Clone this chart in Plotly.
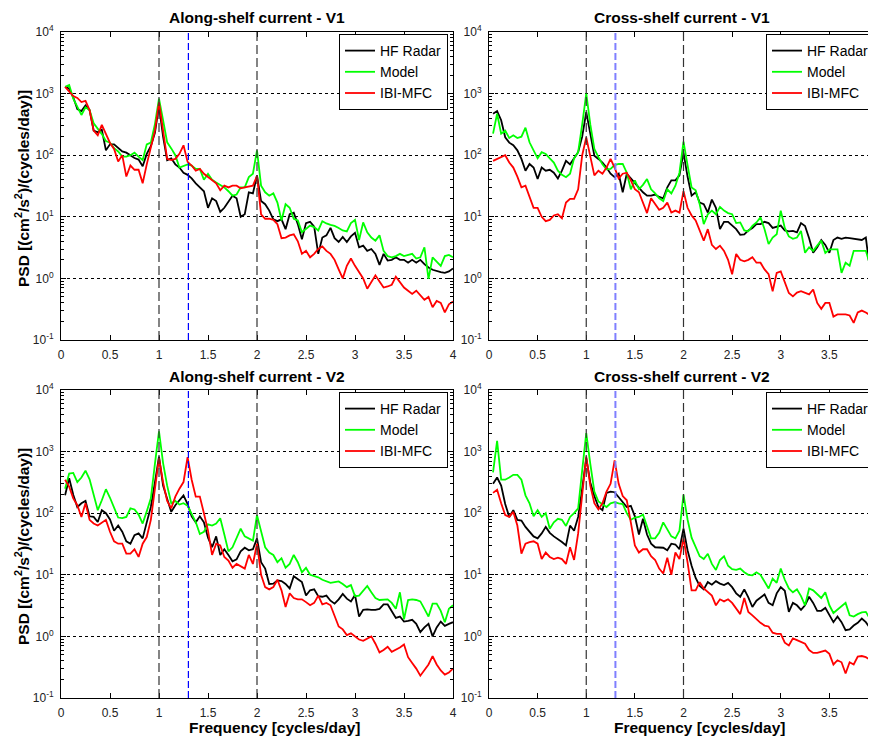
import numpy as np
import plotly.graph_objects as go

# Frequency grid (cycles/day), spectral resolution 1/24 cpd
freq_along = np.arange(1, 97) / 24.0
freq_cross = np.arange(1, 96) / 24.0

# ---------------- Along-shelf current - V1 ----------------
along_v1_radar = [1290, 1200, 870, 560, 520, 640, 540, 250, 235, 260, 120, 150, 150, 130, 115, 110, 98, 90, 85, 66, 105, 140, 230, 630,
                  200, 83, 89, 71, 63, 52, 48, 42, 35, 30, 26, 14, 20, 18, 12, 14, 18, 22, 20, 10, 11, 25, 24, 47,
                  18, 16, 12.6, 9.1, 8.5, 9.1, 6.3, 11, 11.7, 7.6, 4.3, 7.9, 8.3, 6.9, 2.5, 4.6, 5.0, 6.6, 4.5, 3.9, 4.7, 3.9, 4.8, 5.5,
                  3.2, 3.4, 2.8, 3.0, 2.5, 1.66, 2.5, 1.95, 2.0, 2.2, 2.0, 2.0, 1.8, 2.0, 1.8, 2.0, 1.7, 1.5, 1.38, 1.3, 1.26, 1.23, 1.3, 1.45]
along_v1_model = [1290, 1380, 830, 600, 450, 600, 540, 330, 270, 220, 170, 160, 130, 115, 95, 95, 100, 110, 95, 83, 150, 160, 320, 830,
                  370, 162, 129, 100, 63, 66, 71, 68, 60, 60, 40, 50, 40, 36, 33, 30, 26, 22, 23, 30, 30, 44, 50, 120,
                  32, 25, 22, 24, 17, 8.7, 16, 14, 9.3, 8.7, 5.6, 6.3, 7.2, 6.8, 6.0, 8.5, 7.8, 7.4, 7.1, 6.6, 6.0, 5.8, 7.9, 8.9,
                  4.2, 8.1, 5.6, 4.6, 4.1, 5.0, 2.8, 2.3, 2.2, 2.3, 2.5, 2.3, 2.4, 2.5, 2.1, 2.2, 3.2, 0.98, 2.2, 1.9, 1.6, 2.3, 2.4, 2.2]
along_v1_ibi = [1290, 1070, 910, 850, 730, 760, 540, 250, 210, 310, 225, 158, 126, 79, 100, 45, 68, 58, 58, 35, 71, 135, 250, 720,
                250, 87, 83, 87, 105, 145, 78, 68, 56, 60, 50, 44, 40, 35, 27, 32, 30, 32, 32, 29, 30, 31, 32, 46,
                11, 9.3, 9.3, 8.9, 7.6, 4.5, 4.6, 5.0, 5.2, 4.0, 2.5, 2.8, 2.2, 2.5, 3.0, 3.3, 2.8, 2.5, 2.0, 1.4, 1.0, 1.6, 2.1, 1.6,
                1.26, 1.0, 0.68, 0.89, 1.12, 0.89, 0.71, 0.74, 0.79, 1.07, 0.89, 0.71, 0.63, 0.56, 0.63, 0.54, 0.45, 0.5, 0.34, 0.43, 0.40, 0.28, 0.38, 0.42]

# ---------------- Cross-shelf current - V1 ----------------
cross_v1_radar = [470, 520, 370, 195, 160, 145, 120, 87, 56, 72, 63, 41, 63, 56, 58, 52, 42, 56, 81, 71, 89, 112, 200, 500,
                  224, 98, 87, 76, 63, 50, 44, 50, 25, 50, 42, 35, 30, 25, 22, 22, 23, 21, 20, 30, 39, 39, 47, 110,
                  45, 22, 25, 17, 16, 11.7, 19, 14, 6.3, 8.3, 8.3, 7.2, 6.3, 5.1, 5.2, 6.0, 6.6, 7.6, 7.6, 8.3, 7.9, 6.6, 6.8, 7.2,
                  6.0, 5.8, 5.9, 5.6, 7.9, 7.1, 4.5, 2.6, 3.2, 4.2, 3.5, 2.6, 4.2, 4.6, 4.4, 4.6, 4.5, 4.4, 4.3, 4.2, 4.6, 1.4, 3.3]
cross_v1_model = [224, 470, 224, 250, 190, 210, 190, 200, 280, 162, 120, 89, 112, 105, 89, 76, 56, 48, 44, 50, 89, 112, 316, 1000,
                  316, 126, 93, 71, 59, 60, 69, 72, 72, 52, 28, 39, 28, 33, 41, 28, 24, 20, 18, 28, 24, 32, 52, 166,
                  69, 30, 27, 16, 7.6, 11, 12.6, 11, 14.5, 12.6, 11.5, 11, 7.9, 8.1, 6.0, 5.8, 7.1, 8.1, 9.8, 6.3, 3.6, 4.6, 5.2, 12.6,
                  6.6, 4.8, 4.4, 4.6, 5.9, 2.6, 3.2, 2.8, 3.4, 4.1, 2.6, 2.95, 2.95, 2.95, 1.23, 1.8, 1.6, 2.8, 2.8, 2.8, 2.8, 1.7, 1.3]
cross_v1_ibi = [81, 87, 95, 100, 76, 63, 45, 30, 32, 21, 14, 14, 10, 8.5, 8.9, 10.5, 11, 9.5, 17, 19.5, 19.5, 28, 100, 195,
                98, 47, 56, 50, 63, 87, 63, 42, 50, 52, 39, 28, 25, 17, 11.5, 20, 16, 13, 14, 17, 11.7, 12.6, 11.7, 26,
                14, 10.5, 8.7, 6.0, 4.1, 6.3, 3.5, 3.0, 3.4, 2.8, 2.0, 1.17, 2.5, 2.0, 1.9, 2.0, 2.2, 1.8, 1.8, 1.4, 1.17, 0.62, 1.23, 1.3,
                0.89, 0.58, 0.51, 0.59, 0.62, 0.58, 0.55, 0.66, 0.40, 0.32, 0.40, 0.40, 0.24, 0.26, 0.26, 0.26, 0.25, 0.19, 0.28, 0.30, 0.28, 0.25, 0.23]

# ---------------- Along-shelf current - V2 ----------------
along_v2_radar = [195, 370, 200, 126, 145, 158, 89, 87, 72, 112, 100, 79, 52, 63, 50, 35, 32, 44, 47, 39, 71, 126, 316, 830,
                  280, 178, 105, 135, 166, 195, 141, 89, 71, 89, 71, 40, 28, 42, 21, 26, 21, 16.6, 17.8, 24, 27.5, 25, 26, 39,
                  16, 12.6, 7.1, 7.2, 8.1, 7.9, 7.1, 6.0, 9.5, 8.5, 7.6, 4.6, 5.6, 5.8, 4.5, 4.4, 4.6, 3.8, 3.4, 4.0, 4.9, 4.1, 3.7, 4.7,
                  2.1, 2.7, 2.75, 2.7, 2.7, 2.8, 3.3, 3.3, 2.5, 2.0, 2.1, 1.74, 1.78, 1.86, 1.6, 1.17, 1.4, 1.6, 1.0, 1.4, 1.74, 1.48, 1.6, 1.7]
along_v2_model = [250, 440, 450, 320, 380, 490, 355, 200, 112, 162, 245, 178, 120, 85, 83, 87, 120, 115, 95, 68, 107, 174, 630, 2140,
                  650, 280, 145, 158, 138, 145, 132, 95, 72, 46, 50, 66, 63, 68, 83, 45, 24, 28, 40, 56, 42, 39, 36, 93,
                  50, 28, 23, 21, 16, 18.6, 13, 15, 21, 16, 11, 13, 10, 9.5, 9.1, 8.3, 7.8, 7.4, 7.6, 7.8, 7.1, 6.3, 6.8, 4.5,
                  4.6, 5.4, 6.6, 5.2, 4.2, 3.9, 4.0, 4.0, 3.5, 2.8, 5.2, 1.9, 3.9, 4.0, 3.9, 3.7, 2.8, 2.1, 3.4, 3.4, 2.6, 1.7, 2.8, 3.2]
along_v2_ibi = [350, 270, 174, 135, 87, 145, 78, 68, 63, 71, 78, 50, 35, 32, 32, 22, 22, 26, 19.5, 32, 41, 78, 250, 780,
                316, 158, 120, 186, 250, 320, 810, 350, 186, 186, 100, 52, 21, 32, 30, 19.5, 17, 13, 15, 13.8, 12.6, 21, 15, 32,
                10, 6.3, 5.8, 6.3, 8.3, 5.6, 3.0, 5.0, 4.2, 4.0, 4.0, 3.6, 3.2, 3.5, 4.6, 3.3, 3.5, 3.2, 2.2, 1.45, 1.3, 1.05, 1.12, 1.0,
                0.89, 0.85, 0.91, 1.0, 0.76, 0.55, 0.6, 0.68, 0.56, 0.6, 0.66, 0.74, 0.46, 0.37, 0.30, 0.23, 0.28, 0.35, 0.48, 0.35, 0.28, 0.24, 0.26, 0.30]

# ---------------- Cross-shelf current - V2 ----------------
cross_v2_radar = [300, 380, 280, 141, 87, 112, 78, 76, 60, 50, 42, 39, 47, 60, 48, 42, 38, 34, 30, 63, 52, 87, 250, 780,
                  316, 190, 126, 112, 214, 224, 219, 182, 151, 126, 132, 89, 45, 81, 45, 32, 28, 27.5, 27.5, 25, 32, 31, 26, 56,
                  25, 14, 8.9, 6.6, 5.8, 7.6, 6.9, 7.9, 7.2, 6.8, 7.4, 6.3, 5.0, 4.4, 5.8, 4.3, 3.0, 3.8, 4.2, 4.8, 3.5, 3.2, 5.0, 6.3,
                  5.5, 2.5, 3.5, 3.2, 2.7, 3.2, 4.4, 3.5, 2.6, 2.6, 2.9, 2.2, 1.7, 2.1, 1.7, 1.26, 1.3, 1.5, 1.66, 1.95, 1.7, 1.38, 2.5]
cross_v2_model = [460, 1500, 350, 350, 380, 420, 420, 350, 195, 145, 89, 112, 87, 100, 56, 71, 81, 78, 62, 87, 100, 120, 500, 2000,
                  630, 224, 155, 141, 126, 145, 151, 145, 141, 100, 78, 85, 87, 95, 60, 39, 39, 48, 71, 56, 42, 39, 52, 200,
                  79, 40, 28, 20, 18, 22, 15, 12, 17.4, 20, 14, 12.3, 12, 12.6, 11, 10, 9.8, 11, 10, 7.6, 6.0, 8.7, 7.4, 12.6,
                  8.3, 6.0, 5.2, 5.8, 4.5, 3.2, 6.0, 5.6, 4.8, 4.2, 5.2, 3.2, 2.4, 2.75, 3.1, 3.5, 2.2, 2.1, 2.3, 2.45, 2.5, 1.95, 2.2]
cross_v2_ibi = [214, 240, 145, 93, 87, 105, 63, 22, 32, 34, 35, 32, 18, 23, 19.5, 18, 19, 18, 15, 28, 17.4, 47, 200, 830,
                280, 145, 115, 145, 224, 300, 720, 300, 190, 162, 71, 30, 23, 26, 26, 20, 17.4, 12.6, 10.5, 19, 10, 23, 18, 39,
                16, 5.6, 5.6, 7.6, 6.0, 5.2, 4.6, 3.2, 4.0, 3.7, 4.0, 3.5, 2.8, 2.3, 4.2, 2.5, 2.2, 1.9, 1.66, 1.5, 1.45, 1.15, 1.1, 1.1,
                0.79, 0.71, 0.93, 0.87, 0.81, 0.76, 0.6, 0.54, 0.54, 0.56, 0.59, 0.52, 0.35, 0.41, 0.38, 0.25, 0.38, 0.35, 0.47, 0.48, 0.46, 0.42, 0.32]

series_names = ["HF Radar", "Model", "IBI-MFC"]
series_colors = ["#000000", "#00ff00", "#ff0000"]
panel_titles = ["Along-shelf current - V1", "Cross-shelf current - V1",
                "Along-shelf current - V2", "Cross-shelf current - V2"]
y_tickvals = [0.1, 1, 10, 100, 1000, 10000]
y_ticktext = ["10<sup>-1</sup>", "10<sup>0</sup>", "10<sup>1</sup>", "10<sup>2</sup>", "10<sup>3</sup>", "10<sup>4</sup>"]
x_tick_left = [0, 0.5, 1, 1.5, 2, 2.5, 3, 3.5, 4]
x_tick_right = [0, 0.5, 1, 1.5, 2, 2.5, 3, 3.5]
tidal_lines = [1, 2]
inertial_line = 1.3

W, H = 876, 740
OFF = 8  # default page body margin that offsets the figure on screen
def px(x): return (x - OFF) / W
def py(y): return 1 - (y - OFF) / H

panels = [
    dict(freq=freq_along, data=[along_v1_radar, along_v1_model, along_v1_ibi], xl=61, xr=453, yt=32, yb=340,
         xrange=[0, 4], ticks=x_tick_left, blue="#0000ff", bw=1.2, leg_r=448, leg_t=34),
    dict(freq=freq_cross, data=[cross_v1_radar, cross_v1_model, cross_v1_ibi], xl=489, xr=878, yt=32, yb=340,
         xrange=[0, 4], ticks=x_tick_right, blue="#7f7fff", bw=2, leg_r=875, leg_t=34),
    dict(freq=freq_along, data=[along_v2_radar, along_v2_model, along_v2_ibi], xl=61, xr=453, yt=390, yb=698,
         xrange=[0, 4], ticks=x_tick_left, blue="#0000ff", bw=1.2, leg_r=448, leg_t=392),
    dict(freq=freq_cross, data=[cross_v2_radar, cross_v2_model, cross_v2_ibi], xl=489, xr=878, yt=390, yb=698,
         xrange=[0, 4], ticks=x_tick_right, blue="#7f7fff", bw=2, leg_r=875, leg_t=392),
]

fig = go.Figure()
layout = dict(width=W, height=H, margin=dict(l=0, r=0, t=0, b=0, autoexpand=False),
              template="none",
              paper_bgcolor="white", plot_bgcolor="white",
              font=dict(family="Liberation Sans, Arial, sans-serif", color="black", size=12))
shapes, annotations = [], []
minor_vals = [m * 10.0 ** e for e in range(-1, 4) for m in range(2, 10)]

for i, p in enumerate(panels):
    n = "" if i == 0 else str(i + 1)
    xa, ya = "x" + n, "y" + n
    leg = "legend" + n
    for name, color, vals in zip(series_names, series_colors, p["data"]):
        fig.add_trace(go.Scatter(x=p["freq"], y=vals, mode="lines", name=name,
                                 line=dict(color=color, width=1.8),
                                 xaxis=xa, yaxis=ya, legend=leg))
    layout["xaxis" + n] = dict(domain=[px(p["xl"]), min(1, px(p["xr"]))], anchor=ya, range=p["xrange"],
                               automargin=False,
                               tickmode="array", tickvals=p["ticks"],
                               ticktext=[("%g" % t) for t in p["ticks"]],
                               ticks="inside", ticklen=5, tickcolor="black", mirror="ticks",
                               showline=True, linecolor="black", linewidth=1, ticklabelstandoff=4,
                               showgrid=False, zeroline=False, tickfont=dict(size=12, color="#222"))
    layout["yaxis" + n] = dict(domain=[py(p["yb"]), py(p["yt"])], anchor=xa, type="log", range=[-1, 4],
                               automargin=False,
                               tickmode="array", tickvals=y_tickvals, ticktext=y_ticktext,
                               ticks="inside", ticklen=5, tickcolor="black", mirror="ticks",
                               showline=True, linecolor="black", linewidth=1,
                               showgrid=True, gridcolor="black", griddash="dot", gridwidth=1,
                               zeroline=False, tickfont=dict(size=12, color="#222"), ticklabelstandoff=4,
                               minor=dict(tickmode="array", tickvals=minor_vals, ticks="inside",
                                          ticklen=3, tickcolor="black", showgrid=False))
    layout[leg] = dict(x=px(p["leg_r"]), y=py(p["leg_t"]), xanchor="right", yanchor="top",
                       bgcolor="white", bordercolor="black", borderwidth=1,
                       font=dict(size=14), tracegroupgap=0, itemwidth=30)
    for xv in tidal_lines:
        shapes.append(dict(type="line", xref=xa, yref=ya + " domain", x0=xv, x1=xv, y0=0, y1=1,
                           line=dict(color="#333333", width=1.2, dash="9px,4px")))
    shapes.append(dict(type="line", xref=xa, yref=ya + " domain", x0=inertial_line, x1=inertial_line, y0=0, y1=1,
                       line=dict(color=p["blue"], width=p["bw"], dash="7px,3px")))
    cx = 257 if i % 2 == 0 else 682
    annotations.append(dict(text="<b>" + panel_titles[i] + "</b>", x=px(cx), y=py(p["yt"] - 14),
                            xref="paper", yref="paper", showarrow=False, xanchor="center", yanchor="middle",
                            font=dict(size=15.5, color="black")))
    if i % 2 == 0:
        annotations.append(dict(text="<b>PSD [(cm<sup>2</sup>/s<sup>2</sup>)/(cycles/day)]</b>",
                                x=px(22), y=py((p["yt"] + p["yb"]) / 2 + 3), xref="paper", yref="paper",
                                showarrow=False, textangle=-90, xanchor="center", yanchor="middle",
                                font=dict(size=15.5, color="black")))
    if i >= 2:
        annotations.append(dict(text="<b>Frequency [cycles/day]</b>", x=px(cx + 17), y=py(727),
                                xref="paper", yref="paper", showarrow=False, xanchor="center", yanchor="middle",
                                font=dict(size=15.5, color="black")))

layout["shapes"] = shapes
layout["annotations"] = annotations
fig.update_layout(**layout)
fig.write_html("out.html")
